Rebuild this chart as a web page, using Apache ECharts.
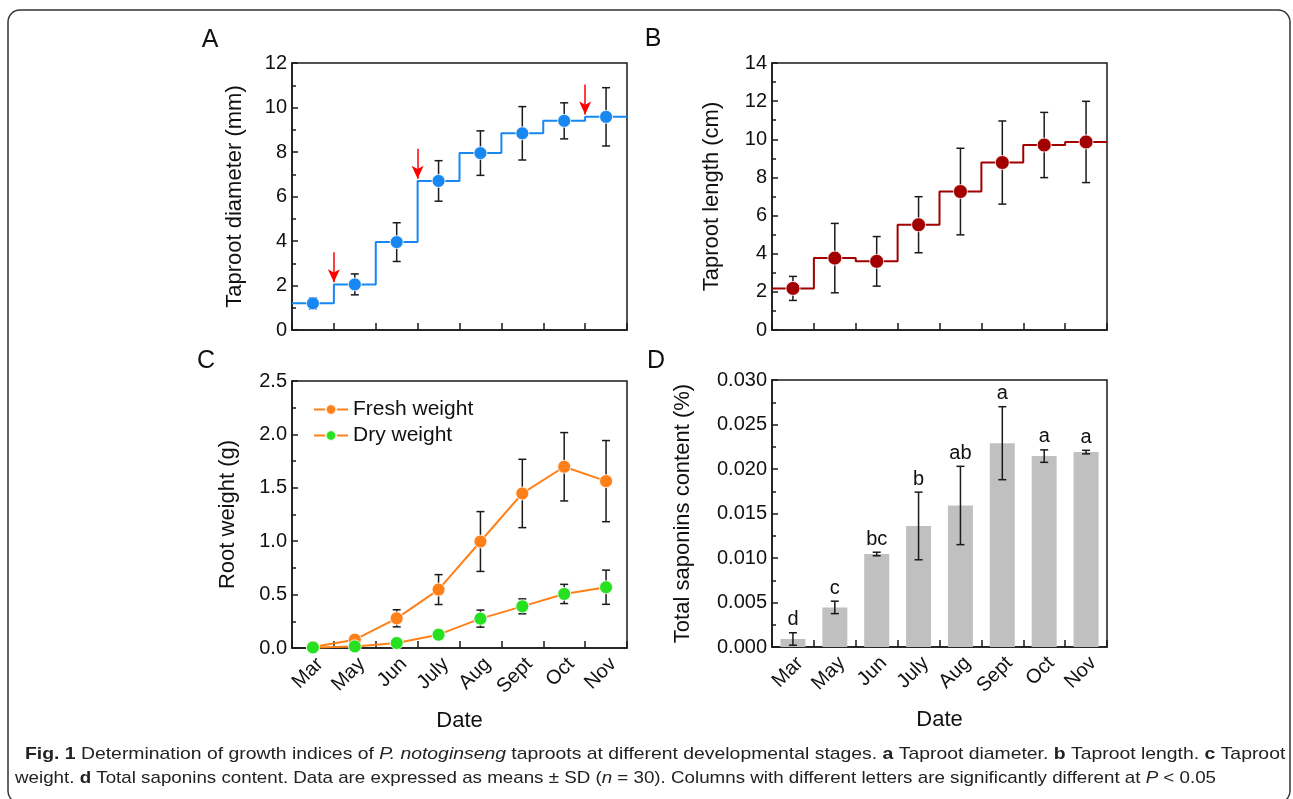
<!DOCTYPE html>
<html><head><meta charset="utf-8">
<script src="https://cdn.jsdelivr.net/npm/echarts@6/dist/echarts.min.js"></script>
<style>html,body{margin:0;padding:0;background:#fff}#c{width:1293px;height:799px}</style>
</head><body><div id="c"></div>
<script>
// ---------- data ----------
const months = ['Mar', 'May', 'Jun', 'July', 'Aug', 'Sept', 'Oct', 'Nov'];
const diameterMean = [1.2, 2.05, 3.95, 6.7, 7.95, 8.84, 9.4, 9.58];
const diameterSD = [0.25, 0.47, 0.87, 0.91, 1.0, 1.2, 0.81, 1.31];
const diameterArrowAt = [1, 3, 7];
const lengthMean = [2.18, 3.77, 3.6, 5.52, 7.26, 8.78, 9.7, 9.86];
const lengthSD = [0.63, 1.82, 1.3, 1.47, 2.27, 2.18, 1.71, 2.13];
const freshMean = [0.01, 0.078, 0.278, 0.547, 0.997, 1.447, 1.697, 1.5625];
const freshSD = [0.01, 0.02, 0.08, 0.14, 0.28, 0.32, 0.32, 0.38];
const dryMean = [0.005, 0.015, 0.047, 0.125, 0.275, 0.39, 0.506, 0.569];
const drySD = [0.003, 0.005, 0.01, 0.015, 0.08, 0.07, 0.09, 0.16];
const saponinMean = [0.0009, 0.00445, 0.01045, 0.0136, 0.0159, 0.0229, 0.02145, 0.0219];
const saponinSD = [0.0007, 0.0007, 0.0002, 0.0038, 0.0044, 0.0041, 0.0007, 0.0002];
const saponinLetters = ['d', 'c', 'bc', 'b', 'ab', 'a', 'a', 'a'];

const yTicksA = {min: 0, max: 12, interval: 2};
const yTicksB = {min: 0, max: 14, interval: 2};
const yTicksC = {min: 0, max: 2.5, interval: 0.5};
const yTicksD = {min: 0, max: 0.03, interval: 0.005};

const caption1 = '{b|Fig. 1} Determination of growth indices of {i|P. notoginseng} taproots at different developmental stages. {b|a} Taproot diameter. {b|b} Taproot length. {b|c} Taproot';
const caption2 = 'weight. {b|d} Total saponins content. Data are expressed as means ± SD ({i|n} = 30). Columns with different letters are significantly different at {i|P} < 0.05';

// ---------- helpers ----------
const FONT = 'Liberation Sans, Arial, sans-serif';
const INK = '#1a1a1a';
const errData = (m, s) => m.map((v, i) => [i, v - s[i], v + s[i]]);
const stepData = vals => { const d = vals.map((v, i) => [i, v]); d.push([vals.length, vals[vals.length - 1]]); return d; };

function errorBar(capW, letters) {
  return function (params, api) {
    const x = api.value(0);
    const lo = api.coord([x, api.value(1)]);
    const hi = api.coord([x, api.value(2)]);
    const h = capW / 2;
    const style = {stroke: INK, lineWidth: 1.5};
    const ch = [
      {type: 'line', shape: {x1: lo[0], y1: lo[1], x2: hi[0], y2: hi[1]}, style},
      {type: 'line', shape: {x1: lo[0] - h, y1: lo[1], x2: lo[0] + h, y2: lo[1]}, style},
      {type: 'line', shape: {x1: hi[0] - h, y1: hi[1], x2: hi[0] + h, y2: hi[1]}, style}
    ];
    if (letters) {
      ch.push({type: 'text', x: hi[0], y: hi[1] - 3, style: {text: letters[params.dataIndex], align: 'center', verticalAlign: 'bottom', fontSize: 20, fontFamily: FONT, fill: '#111'}});
    }
    return {type: 'group', children: ch};
  };
}

const lineSt = {color: INK, width: 1.5};
function valueY(gridIndex, ticks, name, gap, fmt) {
  return Object.assign({
    type: 'value', gridIndex, name, nameLocation: 'middle', nameGap: gap,
    nameTextStyle: {fontSize: 22, fontFamily: FONT, color: '#111'},
    axisLine: {show: true, lineStyle: lineSt},
    axisTick: {show: true, inside: true, length: 6, lineStyle: lineSt},
    minorTick: {show: true, splitNumber: 2, length: 4, lineStyle: lineSt},
    splitLine: {show: false},
    axisLabel: {fontSize: 20, fontFamily: FONT, color: '#111', margin: 5, formatter: fmt}
  }, ticks);
}
function catX(gridIndex, showLabels) {
  const ax = {
    type: 'category', gridIndex, data: months, boundaryGap: true,
    axisLine: {show: true, lineStyle: lineSt},
    axisTick: {show: true, inside: true, length: 7, interval: 0, lineStyle: lineSt},
    splitLine: {show: false},
    axisLabel: {show: showLabels, interval: 0, rotate: 45, fontSize: 20, fontFamily: FONT, color: '#111', margin: 6, verticalAlign: 'top'}
  };
  if (showLabels) {
    ax.name = 'Date'; ax.nameLocation = 'middle'; ax.nameGap = 62;
    ax.nameTextStyle = {fontSize: 22, fontFamily: FONT, color: '#111'};
  }
  return ax;
}
const hiddenX = g => ({type: 'value', gridIndex: g, min: 0, max: months.length, show: false});
const gridBox = (left, top) => ({left, top, width: 335, height: 267, show: true, borderColor: INK, borderWidth: 1.5, backgroundColor: 'transparent'});

// caption fitting (layout only)
const CAP_FONT = 'Liberation Sans, Arial, sans-serif';
const CAP_SIZE = 17;
function fitScale(rich, target) {
  const plain = rich.replace(/\{[bi]\|([^}]*)\}/g, '$1');
  const ctx = document.createElement('canvas').getContext('2d');
  ctx.font = CAP_SIZE + 'px ' + CAP_FONT;
  return target / ctx.measureText(plain).width;
}
const capRich = {
  b: {fontWeight: 'bold', fontSize: CAP_SIZE, fontFamily: CAP_FONT, fill: '#222'},
  i: {fontStyle: 'italic', fontSize: CAP_SIZE, fontFamily: CAP_FONT, fill: '#222'}
};

const blue = '#1787f2', wine = '#a20000', orange = '#ff8018', green = '#27e01f';

const option = {
  animation: false,
  backgroundColor: '#fff',
  grid: [gridBox(292, 63), gridBox(772, 63), gridBox(292, 381), gridBox(772, 380)],
  xAxis: [catX(0, false), hiddenX(0), catX(1, false), hiddenX(1), catX(2, true), catX(3, true)],
  yAxis: [
    valueY(0, yTicksA, 'Taproot diameter (mm)', 46, v => String(v)),
    valueY(1, yTicksB, 'Taproot length (cm)', 49, v => String(v)),
    valueY(2, yTicksC, 'Root weight (g)', 53, v => v.toFixed(1)),
    valueY(3, yTicksD, 'Total saponins content (%)', 78, v => v.toFixed(3))
  ],
  legend: {
    left: 308, top: 394, orient: 'vertical', itemWidth: 34, itemHeight: 13, itemGap: 5,
    textStyle: {fontSize: 21, fontFamily: FONT, color: '#111'},
    data: ['Fresh weight', 'Dry weight']
  },
  series: [
    // A
    {type: 'line', xAxisIndex: 1, yAxisIndex: 0, data: stepData(diameterMean), step: 'end', showSymbol: false,
      lineStyle: {color: blue, width: 2}, z: 2,
      markLine: {silent: true, symbol: ['none', 'arrow'], symbolSize: [9, 13], label: {show: false},
        lineStyle: {color: '#ff0000', width: 1.5, type: 'solid'},
        data: diameterArrowAt.map(i => [{coord: [i, diameterMean[i] + 1.45]}, {coord: [i, diameterMean[i] + 0.1]}])}},
    {type: 'custom', xAxisIndex: 0, yAxisIndex: 0, data: errData(diameterMean, diameterSD), renderItem: errorBar(8), encode: {x: 0, y: [1, 2]}, z: 3},
    {type: 'scatter', xAxisIndex: 0, yAxisIndex: 0, data: diameterMean, symbolSize: 13,
      itemStyle: {color: blue, borderColor: 'rgba(255,255,255,0.8)', borderWidth: 1, opacity: 1}, z: 4},
    // B
    {type: 'line', xAxisIndex: 3, yAxisIndex: 1, data: stepData(lengthMean), step: 'end', showSymbol: false,
      lineStyle: {color: wine, width: 2}, z: 2},
    {type: 'custom', xAxisIndex: 2, yAxisIndex: 1, data: errData(lengthMean, lengthSD), renderItem: errorBar(8), encode: {x: 0, y: [1, 2]}, z: 3},
    {type: 'scatter', xAxisIndex: 2, yAxisIndex: 1, data: lengthMean, symbolSize: 14,
      itemStyle: {color: wine, borderColor: 'rgba(255,255,255,0.8)', borderWidth: 1, opacity: 1}, z: 4},
    // C
    {type: 'custom', xAxisIndex: 4, yAxisIndex: 2, data: errData(freshMean, freshSD), renderItem: errorBar(8), encode: {x: 0, y: [1, 2]}, z: 1},
    {type: 'custom', xAxisIndex: 4, yAxisIndex: 2, data: errData(dryMean, drySD), renderItem: errorBar(8), encode: {x: 0, y: [1, 2]}, z: 1},
    {name: 'Fresh weight', type: 'line', xAxisIndex: 4, yAxisIndex: 2, data: freshMean, symbol: 'circle', symbolSize: 13,
      lineStyle: {color: orange, width: 2}, itemStyle: {color: orange, borderColor: 'rgba(255,255,255,0.8)', borderWidth: 1}, z: 3},
    {name: 'Dry weight', type: 'line', xAxisIndex: 4, yAxisIndex: 2, data: dryMean, symbol: 'circle', symbolSize: 13,
      lineStyle: {color: orange, width: 2}, itemStyle: {color: green, borderColor: 'rgba(255,255,255,0.8)', borderWidth: 1}, z: 3},
    // D
    {type: 'bar', xAxisIndex: 5, yAxisIndex: 3, data: saponinMean, barWidth: 25, itemStyle: {color: '#c0c0c0'}, z: 1},
    {type: 'custom', xAxisIndex: 5, yAxisIndex: 3, data: errData(saponinMean, saponinSD), renderItem: errorBar(8, saponinLetters), encode: {x: 0, y: [1, 2]}, z: 3}
  ],
  graphic: [
    {type: 'rect', shape: {x: 8, y: 10, width: 1282, height: 793, r: 12}, style: {fill: 'none', stroke: '#333', lineWidth: 1.5}, silent: true},
    {type: 'text', x: 210, y: 40, style: {text: 'A', fontSize: 25, fontFamily: FONT, fill: '#111', align: 'center', verticalAlign: 'middle'}},
    {type: 'text', x: 653, y: 39, style: {text: 'B', fontSize: 25, fontFamily: FONT, fill: '#111', align: 'center', verticalAlign: 'middle'}},
    {type: 'text', x: 206, y: 361, style: {text: 'C', fontSize: 25, fontFamily: FONT, fill: '#111', align: 'center', verticalAlign: 'middle'}},
    {type: 'text', x: 656, y: 361, style: {text: 'D', fontSize: 25, fontFamily: FONT, fill: '#111', align: 'center', verticalAlign: 'middle'}},
    {type: 'text', x: 25, y: 754, scaleX: fitScale(caption1, 1256),
      style: {text: caption1, fontSize: CAP_SIZE, fontFamily: CAP_FONT, fill: '#222', verticalAlign: 'middle', rich: capRich}},
    {type: 'text', x: 15, y: 778, scaleX: fitScale(caption2, 1200),
      style: {text: caption2, fontSize: CAP_SIZE, fontFamily: CAP_FONT, fill: '#222', verticalAlign: 'middle', rich: capRich}}
  ]
};
echarts.init(document.getElementById('c')).setOption(option);
</script></body></html>
